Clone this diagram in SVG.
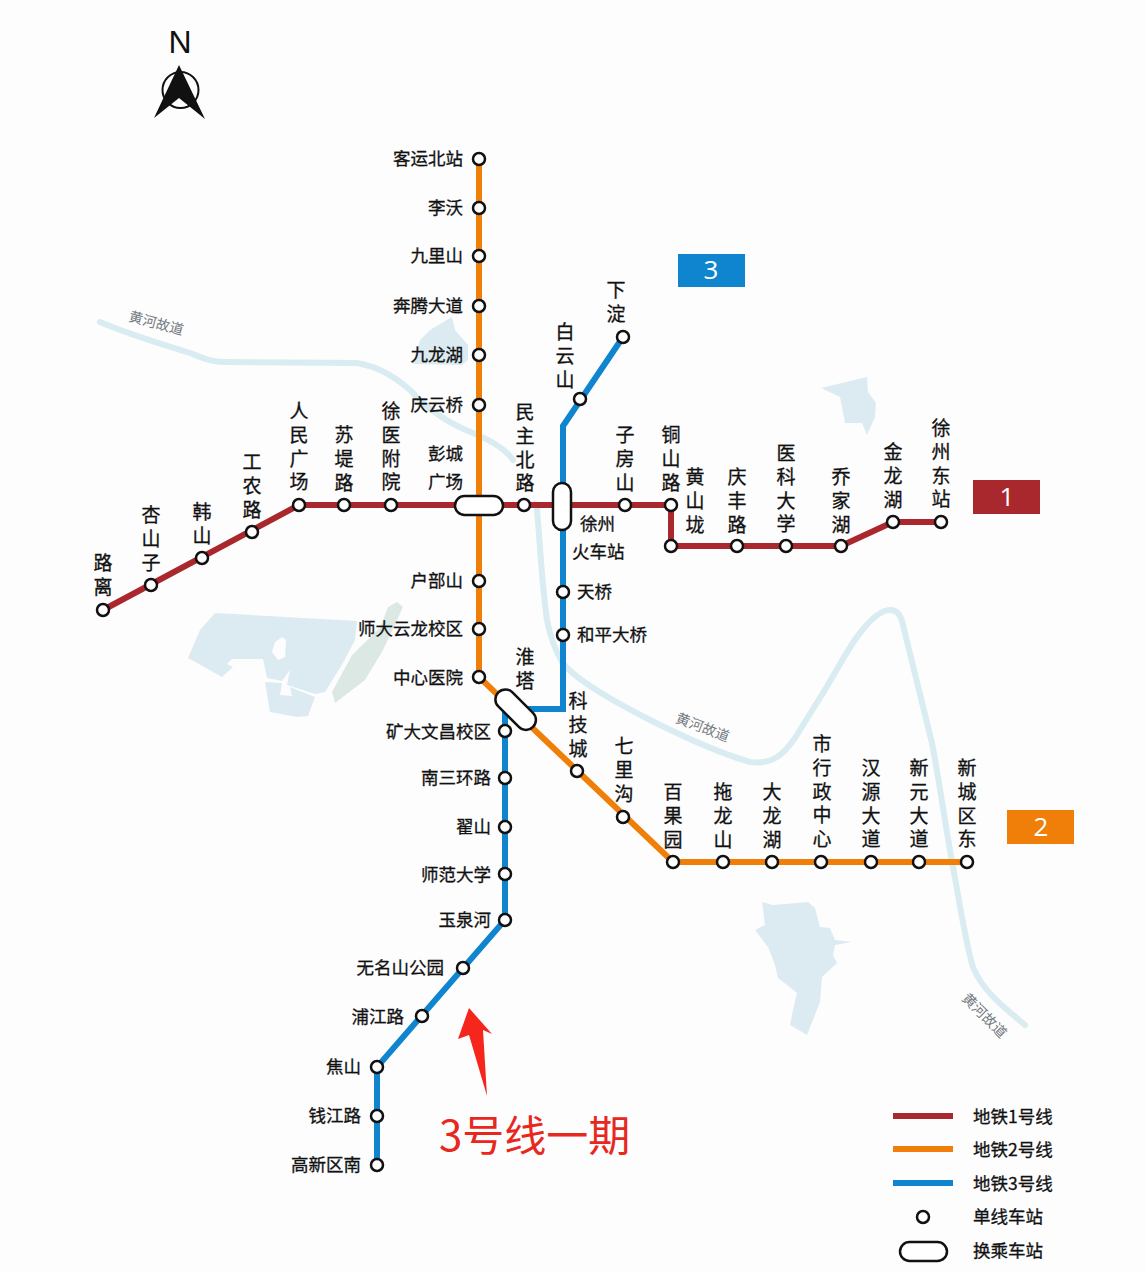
<svg xmlns="http://www.w3.org/2000/svg" width="1146" height="1272" viewBox="0 0 1146 1272">
<style>
text{font-family:"Noto Sans CJK SC","Noto Sans",sans-serif;fill:#111;stroke:#111;stroke-width:.3}
.h{font-size:17.5px;text-anchor:end}
.s{font-size:17.5px;text-anchor:start}
.v{font-size:19px;writing-mode:vertical-rl;letter-spacing:4.7px}
.lg{font-size:17.5px}
.rl{font-size:14px;fill:#737a80;stroke:none;text-anchor:middle}
.line{fill:none}
.l1{stroke:#a9282e;stroke-width:6}
.l2{stroke:#f07f09;stroke-width:6}
.l3{stroke:#0f85d0;stroke-width:6}
.st{fill:#fff;stroke:#111;stroke-width:2.5}
.river{fill:none;stroke:#d8ecf2;stroke-width:6;stroke-linecap:round;stroke-linejoin:round}
.lake{fill:#dcebf2}
.badge{font-size:26px;fill:#fff;stroke:none;text-anchor:middle;font-family:"Open Sans",sans-serif}
</style>
<rect width="1146" height="1272" fill="#fdfdfe"/>
<g id="water">
<path class="river" d="M100 322C130 335 165 345 190 353C205 359 212 362 225 362L357 363C375 366 392 374 410 390C428 410 450 424 473 433C490 440 505 448 513 460"/>
<path class="river" d="M537 510C540 540 541 577 547 620C551 640 556 652 562 662C575 680 615 702 650 720C680 735 715 752 750 762C775 765 785 752 795 738L823 693C840 665 850 645 860 633C870 620 880 610 890 610C898 610 901 616 903 625C908 645 920 695 932 743C940 785 946 830 953 867C960 905 966 945 973 967C983 992 1005 1008 1025 1025"/>
<path class="lake" d="M452 317L455 330L468 345L468 360L462 365L413 364L417 350L420 340L430 330Z"/>
<path class="lake" d="M821 388L867 377L868 392L876 403L875 417L867 435L862 423L845 423L840 397Z"/>
<path class="lake" d="M215 613L357 621L355 640L343 663L325 692L315 694L287 685L290 670L282 681L267 678L263 659L232 659L227 664L233 667L222 677L188 658L200 630Z"/>
<path class="lake" d="M265 682L282 683L280 695L292 696L290 687L315 697L308 716L297 717L270 712Z"/>
<path d="M282 637L286 640L285 657L278 660L272 652L275 642Z" fill="#fdfdfe"/>
<path d="M397 602L403 607L383 650L365 680L335 703L332 692L352 655L380 628L388 607Z" fill="#dce8e4"/>
<path class="lake" d="M762 902L773 905L808 902L815 908L820 927L830 928L835 940L852 942L835 945L833 955L837 963L822 977L820 1002L807 1035L790 1025L793 1010L797 993L778 978L775 965L768 947L755 930L765 925Z"/>
</g>
<g id="connectors">
<path class="line l1" d="M103 610L299 505H671V546H841L893 522H941"/>
<path class="line l2" d="M479 159V677L673 862H967"/>
<path class="line l3" d="M623 337L563 426V709H516"/>
<path class="line l3" d="M505 710V920L377 1067V1165"/>
</g>
<g id="river-labels">
<text class="rl" transform="translate(155 328) rotate(15)">黄河故道</text>
<text class="rl" transform="translate(701 732) rotate(21)">黄河故道</text>
<text class="rl" transform="translate(981 1019) rotate(45)">黄河故道</text>
</g>
<g id="line-1">
<g id="s-luli"><circle class="st" cx="103" cy="610" r="6"/><text class="v" x="103" y="553.5">路离</text></g>
<g id="s-xingshanzi"><circle class="st" cx="151" cy="585" r="6"/><text class="v" x="151" y="505.5">杏山子</text></g>
<g id="s-hanshan"><circle class="st" cx="202" cy="558" r="6"/><text class="v" x="202" y="502.5">韩山</text></g>
<g id="s-gongnonglu"><circle class="st" cx="252" cy="532" r="6"/><text class="v" x="252" y="452.5">工农路</text></g>
<g id="s-renmin"><circle class="st" cx="299" cy="505" r="6"/><text class="v" x="299" y="401.5">人民广场</text></g>
<g id="s-sudi"><circle class="st" cx="344" cy="505" r="6"/><text class="v" x="344" y="425.5">苏堤路</text></g>
<g id="s-xuyi"><circle class="st" cx="391" cy="505" r="6"/><text class="v" x="391" y="401.5">徐医附院</text></g>
<g id="s-pengcheng"><rect class="st" x="455" y="496" width="48" height="19" rx="9.5"/><text class="h" x="463" y="460">彭城</text><text class="h" x="463" y="488">广场</text></g>
<g id="s-minzhu"><circle class="st" cx="524" cy="505" r="6"/><text class="v" x="525" y="402.5">民主北路</text></g>
<g id="s-huochezhan"><rect class="st" x="553" y="483" width="18" height="47" rx="9"/><text class="s" x="580" y="530">徐州</text><text class="s" x="572" y="558">火车站</text></g>
<g id="s-zifang"><circle class="st" cx="625" cy="505" r="6"/><text class="v" x="625" y="425.5">子房山</text></g>
<g id="s-tongshan"><circle class="st" cx="671" cy="505" r="6"/><text class="v" x="671" y="425.5">铜山路</text></g>
<g id="s-huangshan"><circle class="st" cx="671" cy="546" r="6"/><text class="v" x="695" y="467.5">黄山垅</text></g>
<g id="s-qingfeng"><circle class="st" cx="737" cy="546" r="6"/><text class="v" x="737" y="467.5">庆丰路</text></g>
<g id="s-yike"><circle class="st" cx="786" cy="546" r="6"/><text class="v" x="786" y="443.5">医科大学</text></g>
<g id="s-qiaojia"><circle class="st" cx="841" cy="546" r="6"/><text class="v" x="841" y="467.5">乔家湖</text></g>
<g id="s-jinlong"><circle class="st" cx="893" cy="522" r="6"/><text class="v" x="893" y="442.5">金龙湖</text></g>
<g id="s-dongzhan"><circle class="st" cx="941" cy="522" r="6"/><text class="v" x="941" y="418.5">徐州东站</text></g>
</g>
<g id="line-2">
<g id="s-keyun"><circle class="st" cx="479" cy="159" r="6"/><text class="h" x="463" y="165">客运北站</text></g>
<g id="s-liwo"><circle class="st" cx="479" cy="208" r="6"/><text class="h" x="463" y="214">李沃</text></g>
<g id="s-jiulishan"><circle class="st" cx="479" cy="256" r="6"/><text class="h" x="463" y="262">九里山</text></g>
<g id="s-benteng"><circle class="st" cx="479" cy="306" r="6"/><text class="h" x="463" y="312">奔腾大道</text></g>
<g id="s-jiulong"><circle class="st" cx="479" cy="355" r="6"/><text class="h" x="463" y="361">九龙湖</text></g>
<g id="s-qingyun"><circle class="st" cx="479" cy="405" r="6"/><text class="h" x="463" y="411">庆云桥</text></g>
<g id="s-hubu"><circle class="st" cx="479" cy="581" r="6"/><text class="h" x="463" y="587">户部山</text></g>
<g id="s-shida"><circle class="st" cx="479" cy="629" r="6"/><text class="h" x="463" y="635">师大云龙校区</text></g>
<g id="s-zhongxin"><circle class="st" cx="479" cy="677" r="6"/><text class="h" x="463" y="684">中心医院</text></g>
<g id="s-huaita"><rect class="st" x="491" y="700" width="49" height="20" rx="10" transform="rotate(45 516 710)"/><text class="v" x="525" y="647.5">淮塔</text></g>
<g id="s-keji"><circle class="st" cx="577" cy="771" r="6"/><text class="v" x="578" y="691.5">科技城</text></g>
<g id="s-qili"><circle class="st" cx="623" cy="817" r="6"/><text class="v" x="624" y="736.5">七里沟</text></g>
<g id="s-baiguo"><circle class="st" cx="673" cy="862" r="6"/><text class="v" x="673" y="782.5">百果园</text></g>
<g id="s-tuolong"><circle class="st" cx="723" cy="862" r="6"/><text class="v" x="723" y="782.5">拖龙山</text></g>
<g id="s-dalong"><circle class="st" cx="772" cy="862" r="6"/><text class="v" x="772" y="782.5">大龙湖</text></g>
<g id="s-shixing"><circle class="st" cx="821" cy="862" r="6"/><text class="v" x="822" y="734.5">市行政中心</text></g>
<g id="s-hanyuan"><circle class="st" cx="871" cy="862" r="6"/><text class="v" x="871" y="758.5">汉源大道</text></g>
<g id="s-xinyuan"><circle class="st" cx="919" cy="862" r="6"/><text class="v" x="919" y="758.5">新元大道</text></g>
<g id="s-xincheng"><circle class="st" cx="967" cy="862" r="6"/><text class="v" x="967" y="758.5">新城区东</text></g>
</g>
<g id="line-3">
<g id="s-xiadian"><circle class="st" cx="623" cy="337" r="6"/><text class="v" x="616" y="280.5">下淀</text></g>
<g id="s-baiyun"><circle class="st" cx="580" cy="399" r="6"/><text class="v" x="565" y="322.5">白云山</text></g>
<g id="s-tianqiao"><circle class="st" cx="563" cy="592" r="6"/><text class="s" x="577" y="598">天桥</text></g>
<g id="s-heping"><circle class="st" cx="563" cy="635" r="6"/><text class="s" x="577" y="641">和平大桥</text></g>
<g id="s-kuangda"><circle class="st" cx="505" cy="731" r="6"/><text class="h" x="491" y="738">矿大文昌校区</text></g>
<g id="s-nansan"><circle class="st" cx="505" cy="778" r="6"/><text class="h" x="491" y="784">南三环路</text></g>
<g id="s-chengshan"><circle class="st" cx="505" cy="827" r="6"/><text class="h" x="491" y="833">翟山</text></g>
<g id="s-shifan"><circle class="st" cx="505" cy="874" r="6"/><text class="h" x="491" y="881">师范大学</text></g>
<g id="s-yuquan"><circle class="st" cx="505" cy="920" r="6"/><text class="h" x="491" y="926">玉泉河</text></g>
<g id="s-wuming"><circle class="st" cx="463" cy="968" r="6"/><text class="h" x="444" y="974">无名山公园</text></g>
<g id="s-pujiang"><circle class="st" cx="422" cy="1016" r="6"/><text class="h" x="404" y="1023">浦江路</text></g>
<g id="s-jiaoshan"><circle class="st" cx="377" cy="1067" r="6"/><text class="h" x="361" y="1073">焦山</text></g>
<g id="s-qianjiang"><circle class="st" cx="377" cy="1116" r="6"/><text class="h" x="361" y="1122">钱江路</text></g>
<g id="s-gaoxin"><circle class="st" cx="377" cy="1165" r="6"/><text class="h" x="361" y="1171">高新区南</text></g>
</g>
<g id="badges">
<rect x="678" y="254" width="67" height="33" fill="#0f85d0"/><text class="badge" x="711" y="279">3</text>
<rect x="973" y="480" width="67" height="34" fill="#a9282e"/><text class="badge" x="1007" y="506">1</text>
<rect x="1007" y="810" width="67" height="34" fill="#f07f09"/><text class="badge" x="1041" y="836">2</text>
</g>
<g id="compass">
<text x="180" y="53" font-size="32" text-anchor="middle" style="font-family:'Liberation Sans',sans-serif;stroke:none">N</text>
<circle cx="180.500" cy="90" r="18" fill="none" stroke="#111" stroke-width="2"/>
<path d="M179 65L205 119L179 98L154 118Z" fill="#111"/>
</g>
<g id="annotation">
<path d="M469 1008L492 1034L483 1030L487 1096L469 1035L458 1039Z" fill="#f5261c"/>
<text x="439" y="1151" font-size="42" style="fill:#e8281e;stroke:none">3号线一期</text>
</g>
<g id="legend">
<path class="l1" d="M893 1116H953"/>
<path class="l2" d="M893 1149H953"/>
<path class="l3" d="M893 1183H953"/>
<circle class="st" cx="923" cy="1217" r="6"/>
<rect class="st" x="900" y="1242" width="47" height="19" rx="9.5"/>
<text class="lg" x="973" y="1123">地铁1号线</text>
<text class="lg" x="973" y="1156">地铁2号线</text>
<text class="lg" x="973" y="1190">地铁3号线</text>
<text class="lg" x="973" y="1223">单线车站</text>
<text class="lg" x="973" y="1257">换乘车站</text>
</g>
</svg>
